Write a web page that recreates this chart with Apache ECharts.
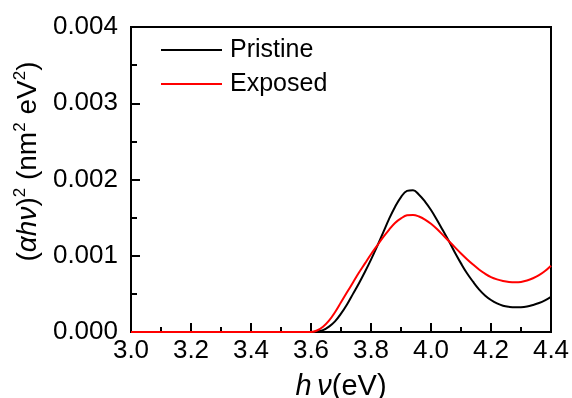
<!DOCTYPE html>
<html>
<head>
<meta charset="utf-8">
<script src="https://cdn.jsdelivr.net/npm/echarts@6/dist/echarts.min.js"></script>
<style>html,body{margin:0;padding:0;background:#fff}#c{width:572px;height:398px}</style>
</head>
<body>
<div id="c"></div>
<script>
// Photon energy (eV)
var energy = [3.00,3.10,3.20,3.30,3.40,3.50,3.60,3.62,3.64,3.66,3.68,3.70,3.72,3.74,3.76,3.78,3.80,3.82,3.84,3.86,3.88,3.90,3.92,3.94,3.96,3.98,4.00,4.02,4.04,4.06,4.08,4.10,4.12,4.14,4.16,4.18,4.20,4.22,4.24,4.26,4.28,4.30,4.32,4.34,4.36,4.38,4.40];
// (alpha h nu)^2 in units of 1e-3 nm^-2 eV^2
var pristine = [0,0,0,0,0,0,0,0.005,0.025,0.07,0.14,0.24,0.36,0.50,0.64,0.79,0.95,1.12,1.30,1.48,1.64,1.77,1.85,1.86,1.80,1.71,1.60,1.47,1.33,1.19,1.04,0.90,0.77,0.66,0.56,0.48,0.42,0.375,0.345,0.33,0.323,0.325,0.335,0.355,0.38,0.415,0.46];
var exposed = [0,0,0,0,0,0,0,0.02,0.07,0.15,0.26,0.39,0.52,0.65,0.78,0.90,1.02,1.13,1.24,1.34,1.43,1.49,1.53,1.535,1.515,1.475,1.42,1.35,1.27,1.19,1.11,1.03,0.955,0.885,0.82,0.765,0.72,0.69,0.67,0.657,0.652,0.657,0.675,0.705,0.745,0.80,0.87];
var seriesNames = ['Pristine','Exposed'];
var yTicks = ['0.000','0.001','0.002','0.003','0.004'];

function pairs(vals){ return energy.map(function(x,i){ return [x, vals[i]*1e-3]; }); }

var font = 'Arial, "Liberation Sans", sans-serif';
var chart = echarts.init(document.getElementById('c'));
chart.setOption({
  animation:false,
  grid:{left:131,right:21,top:27,bottom:66,show:true,borderColor:'#000',borderWidth:2,outerBoundsMode:'none',containLabel:false},
  legend:{
    orient:'vertical', left:156, top:32, itemWidth:61, itemHeight:2, itemGap:8, icon:'rect',
    textStyle:{fontFamily:font,fontSize:25,lineHeight:26,color:'#000',padding:[0,0,0,3]},
    data:seriesNames
  },
  xAxis:{
    type:'value', min:3.0, max:4.4, interval:0.2,
    name:'{i|h\u2009\u03BD}{n|(eV)}', nameLocation:'middle', nameGap:40,
    nameTextStyle:{rich:{i:{fontFamily:font,fontSize:29,fontStyle:'italic',color:'#000'},n:{fontFamily:font,fontSize:29,color:'#000'}}},
    axisLine:{lineStyle:{color:'#000',width:2}},
    axisTick:{inside:true,length:9,lineStyle:{width:2,color:'#000'}},
    minorTick:{show:true,splitNumber:2,length:5,lineStyle:{width:2,color:'#000'}},
    splitLine:{show:false},
    axisLabel:{fontFamily:font,fontSize:26,color:'#000',margin:6,formatter:function(v){return v.toFixed(1);}}
  },
  yAxis:{
    type:'value', min:0, max:0.004, interval:0.001,
    name:'{n|(}{i|\u03B1h\u03BD}{n|)}{s|2}{n| (nm}{s|2}{n| eV}{s|2}{n|)}', nameLocation:'middle', nameGap:82, nameRotate:90,
    nameTextStyle:{padding:[0,0,0,36],rich:{
      i:{fontFamily:font,fontSize:28,fontStyle:'italic',color:'#000',lineHeight:32},
      n:{fontFamily:font,fontSize:28,color:'#000',lineHeight:32},
      s:{fontFamily:font,fontSize:17,color:'#000',verticalAlign:'top',lineHeight:32}
    }},
    axisLine:{lineStyle:{color:'#000',width:2}},
    axisTick:{inside:true,length:9,lineStyle:{width:2,color:'#000'}},
    minorTick:{show:true,splitNumber:2,length:6,lineStyle:{width:2,color:'#000'}},
    splitLine:{show:false},
    axisLabel:{fontFamily:font,fontSize:26,color:'#000',margin:13,formatter:function(v,i){return yTicks[i];}}
  },
  series:[
    {name:seriesNames[0],type:'line',data:pairs(pristine),symbol:'none',smooth:0.4,lineStyle:{color:'#000',width:2},itemStyle:{color:'#000'}},
    {name:seriesNames[1],type:'line',data:pairs(exposed),symbol:'none',smooth:0.4,lineStyle:{color:'#f00',width:2},itemStyle:{color:'#f00'}}
  ]
});
</script>
</body>
</html>
